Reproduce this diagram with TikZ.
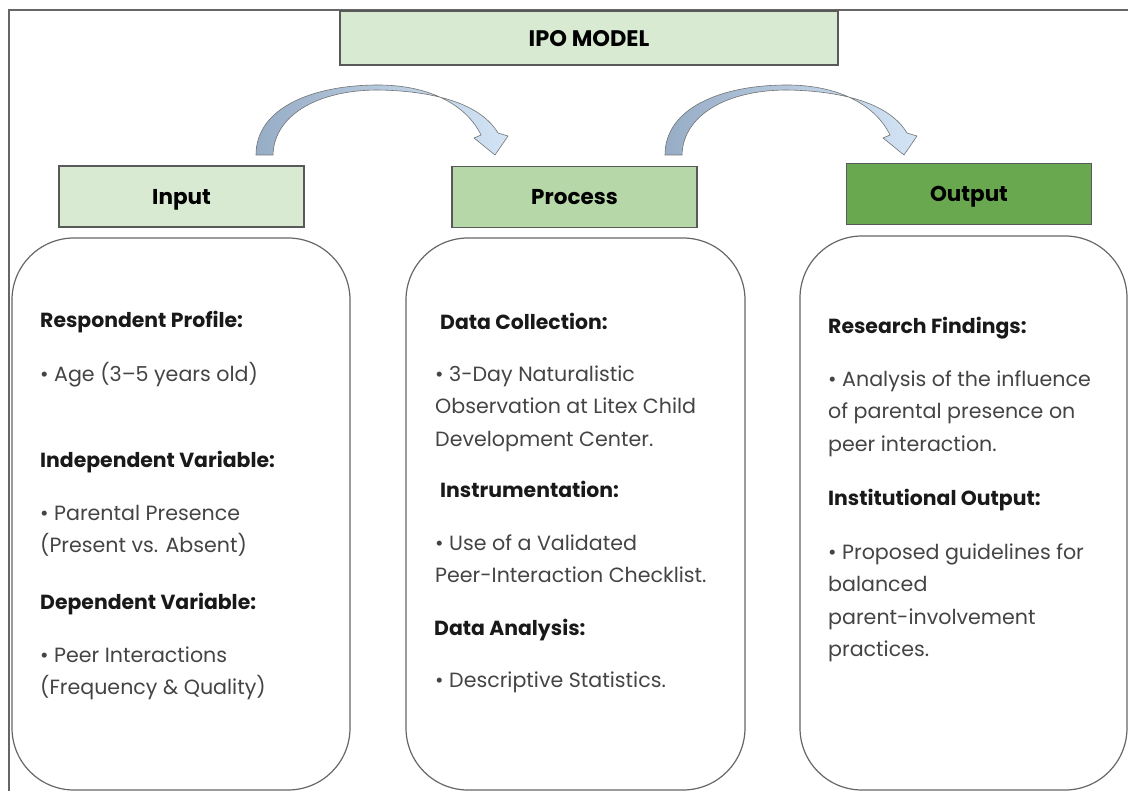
\documentclass[tikz,border=0pt]{standalone}
\usepackage{fontspec}
\setmainfont{Poppins}
\definecolor{lightgrn}{HTML}{D9EAD3}
\definecolor{midgrn}{HTML}{B6D7A8}
\definecolor{darkgrn}{HTML}{6AA84F}
\definecolor{arrowdark}{HTML}{97ADC6}
\definecolor{arrowlight}{HTML}{D3E4F5}
\definecolor{bodytext}{HTML}{444444}
\tikzset{
  hdr/.style={draw=black!65, line width=1.2pt, minimum width=245pt, minimum height=61pt,
    inner sep=0pt, text depth=0pt, font=\fontsize{21.5}{25}\selectfont\bfseries},
  card/.style={draw=black!60, line width=1.2pt, rounded corners=62pt, minimum width=338pt,
    minimum height=552pt},
  head/.style={anchor=base west, inner sep=0pt, font=\fontsize{20.4}{25}\selectfont\bfseries,
    text=black!90},
  % first baseline sits at the given point (strut is 0.7 of 32.5pt)
  body/.style={anchor=north west, yshift=22.75pt, inner sep=0pt, align=left,
    font=\fontsize{20.6}{32.5}\selectfont, text=bodytext},
  bentarrow/.style={left color=arrowdark, right color=arrowlight, draw=black!55, line width=0.6pt},
}
\begin{document}
\begin{tikzpicture}[x=1pt,y=-1pt]
  \useasboundingbox (0,0) rectangle (1128,791);
  \clip (0,0) rectangle (1128,791);
  % frame
  \draw[black!60, line width=2pt] (1128,10) -- (9,10) -- (9,791);

  % columns
  \node[card] (incard) at (181,514) {};
  \node[card, minimum width=339pt] (proccard) at (575.5,514) {};
  \node[card, minimum width=327pt, minimum height=554pt] (outcard) at (963.5,513) {};

  % headers
  \node[hdr, fill=lightgrn, minimum width=498pt, minimum height=54pt,
    font=\fontsize{22.5}{26}\selectfont\bfseries] (title) at (589,38) {IPO MODEL};
  \node[hdr, fill=lightgrn] (input) at (181.5,196.5) {Input};
  \node[hdr, fill=midgrn] (process) at (574.5,197) {Process};
  \node[hdr, fill=darkgrn] (output) at (969,194) {Output};

  % bent arrows between the headers
  \foreach \dx in {0,409}{
    \begin{scope}[xshift=\dx]
      \shadedraw[bentarrow] (256,155) .. controls (256,108) and (312,85) .. (378,85)
        .. controls (428,85) and (466,104) .. (481,135) -- (474,138) -- (495,155)
        -- (508,136) -- (498,133) .. controls (482,106) and (440,91) .. (378,90)
        .. controls (318,90) and (274,115) .. (273,155) -- cycle;
    \end{scope}
  }

  % input column
  \node[head] (prof) at (40,328) {Respondent Profile:};
  \node[body] (age) at (40,381) {\strut• Age (3–5 years old)};
  \node[head] (indep) at (40,468) {Independent Variable:};
  \node[body] (pres) at (40,520) {\strut• Parental Presence\\(Present vs. Absent)};
  \node[head] (dep) at (40,609) {Dependent Variable:};
  \node[body] (peer) at (40,662) {\strut• Peer Interactions\\(Frequency \& Quality)};

  % process column
  \node[head] (coll) at (440,330) {Data Collection:};
  \node[body] (obs) at (435,381) {\strut• 3-Day Naturalistic\\Observation at Litex Child\\Development Center.};
  \node[head] (instr) at (440,498) {Instrumentation:};
  \node[body] (check) at (435,550) {\strut• Use of a Validated\\Peer-Interaction Checklist.};
  \node[head] (anal) at (434,635) {Data Analysis:};
  \node[body] (stats) at (435,687) {\strut• Descriptive Statistics.};

  % output column
  \node[head] (find) at (828,334) {Research Findings:};
  \node[body] (infl) at (828,386) {\strut• Analysis of the influence\\of parental presence on\\peer interaction.};
  \node[head] (inst) at (828,506) {Institutional Output:};
  \node[body] (guide) at (828,559) {\strut• Proposed guidelines for\\balanced\\parent-involvement\\practices.};
\end{tikzpicture}
\end{document}
